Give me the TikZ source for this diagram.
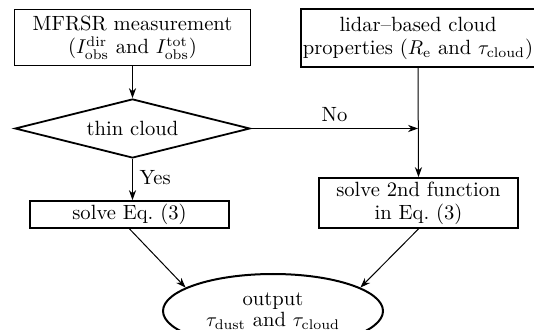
\documentclass[tikz,border=0pt]{standalone}
\usepackage{amsmath}
\usetikzlibrary{shapes.geometric, arrows.meta, positioning, calc}

\tikzset{
  flowtext/.style={font=\fontsize{10.3}{11.5}\selectfont, align=center},
  procbox/.style={draw, line width=0.9pt, rectangle, inner sep=1pt, flowtext},
  decision/.style={draw, line width=0.9pt, diamond, aspect=4, inner sep=0pt, flowtext},
  terminal/.style={draw, line width=1pt, ellipse, inner sep=0pt, flowtext},
  flowarrow/.style={-{Stealth[length=5pt, width=3.6pt]}, line width=0.5pt}
}

\begin{document}
\begin{tikzpicture}[x=0.5pt, y=-0.5pt]
  \useasboundingbox (0,0) rectangle (534,330);

  % inputs
  \node[procbox, minimum width=118pt, minimum height=28pt] (mfrsr) at (132.5,37.5)
    {MFRSR measurement\\($I_{\mathrm{obs}}^{\mathrm{dir}}$ and $I_{\mathrm{obs}}^{\mathrm{tot}}$)};
  \node[procbox, minimum width=115pt, minimum height=29pt] (lidar) at (418,38)
    {lidar--based cloud\\properties ($R_{\mathrm{e}}$ and $\tau_{\mathrm{cloud}}$)};

  % test
  \node[decision, minimum width=117.5pt, minimum height=29.5pt] (thin) at (132.5,128.5) {thin cloud};

  % solvers
  \node[procbox, minimum width=99.5pt, minimum height=13.5pt] (solveA) at (129.5,214.5) {solve Eq.~(3)};
  \node[procbox, minimum width=99.5pt, minimum height=25pt] (solveB) at (418.5,203)
    {solve 2nd function\\in Eq.~(3)};

  % result
  \node[terminal, minimum width=110pt, minimum height=37pt] (out) at (273,311)
    {output\\[-1pt]$\tau_{\mathrm{dust}}$ and $\tau_{\mathrm{cloud}}$};

  \coordinate (join) at (lidar.south |- thin.east);
  \coordinate (yesend) at (thin.south |- solveA.north);

  \draw[flowarrow] (mfrsr.south) -- (thin.north);
  \draw[flowarrow] (thin.east) -- node[above, flowtext, pos=0.5] {No} (join);
  \draw[flowarrow] (lidar.south) -- (solveB.north);
  \draw[flowarrow] (thin.south) -- node[right, flowtext, pos=0.45] {Yes} (yesend);
  \draw[flowarrow] (solveA.south) -- (out.165);
  \draw[flowarrow] (solveB.south) -- (out.15);
\end{tikzpicture}
\end{document}
